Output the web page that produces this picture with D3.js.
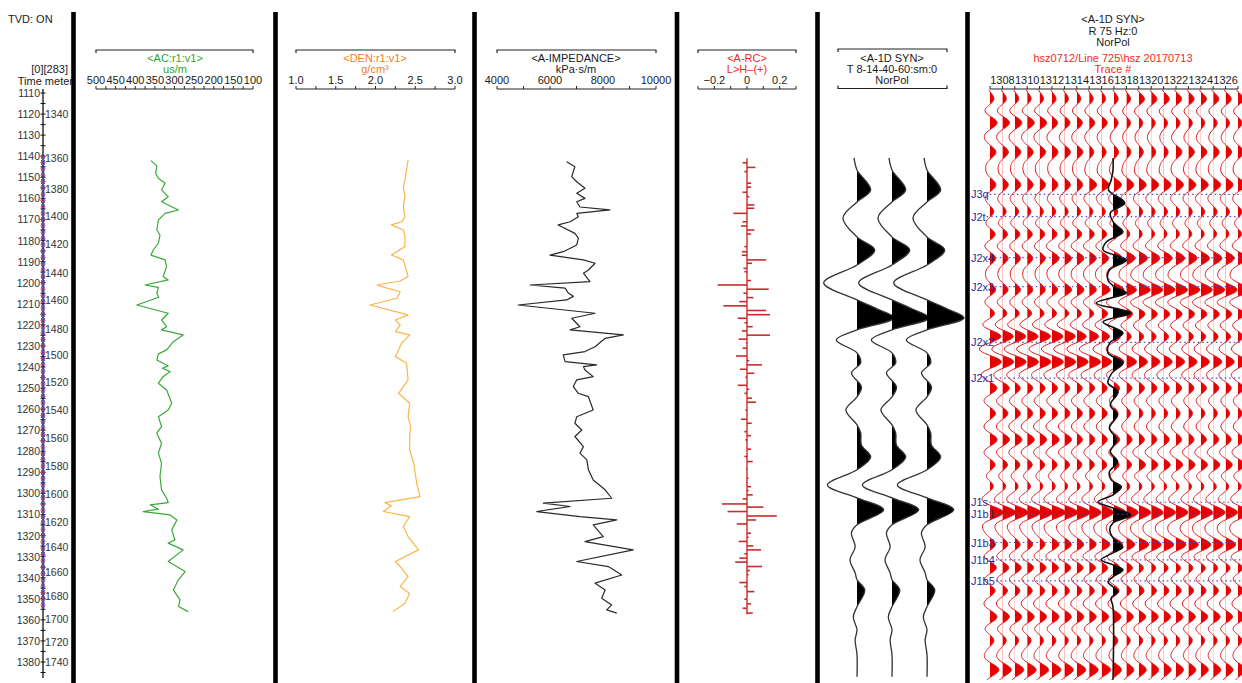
<!DOCTYPE html>
<html>
<head>
<meta charset="utf-8">
<script src="https://cdn.jsdelivr.net/npm/d3@7"></script>
<style>
  body { margin: 0; background: #fff; }
  svg { display: block; }
  text { font-family: "Liberation Sans", Arial, sans-serif; font-size: 11px; fill: #1a1a1a; }
</style>
</head>
<body>
<svg id="chart" width="1242" height="683"></svg>
<script>
// ---------- time / depth axis ----------
const timeTicks = [1110,1120,1130,1140,1150,1160,1170,1180,1190,1200,1210,1220,1230,1240,1250,1260,1270,1280,1290,1300,1310,1320,1330,1340,1350,1360,1370,1380];
const depthLabels = [1340,1360,1380,1400,1420,1440,1460,1480,1500,1520,1540,1560,1580,1600,1620,1640,1660,1680,1700,1720,1740];
const depthTimes  = [1120,1141,1155.6,1168.4,1181.7,1195.3,1208.2,1222,1234.3,1247.1,1260.4,1273.7,1287,1300.3,1313.6,1325.5,1337.3,1348.7,1359.6,1370.5,1380];

// ---------- logs: [time ms, value] ----------
const acLog = [[1142.1,360],[1144.6,345],[1148.1,348],[1150.5,341],[1152.8,324],[1156.0,333],[1159.2,316],[1161.6,333],[1165.5,290],[1167.1,324],[1170.2,341],[1175.0,345],[1177.4,337],[1181.3,341],[1184.5,354],[1186.9,360],[1189.2,324],[1192.4,320],[1197.1,329],[1198.7,316],[1201.1,375],[1202.2,341],[1205.0,345],[1206.9,340],[1210.6,396],[1214.5,316],[1217.7,333],[1220.9,320],[1222.4,333],[1224.8,278],[1228.0,303],[1231.9,320],[1233.8,341],[1236.7,345],[1239.5,316],[1240.6,331],[1242.2,311],[1244.6,329],[1247.7,341],[1250.9,320],[1257.2,307],[1260.4,316],[1263.6,341],[1268.3,333],[1271.4,345],[1276.2,333],[1280.9,341],[1285.7,333],[1292.0,337],[1298.3,333],[1302.3,320],[1304.4,316],[1305.4,362],[1307.5,341],[1308.6,380],[1310.2,311],[1312.6,294],[1317.3,307],[1322.1,299],[1323.6,316],[1326.8,278],[1332.3,316],[1337.1,273],[1341.0,290],[1345.8,303],[1350.5,286],[1353.7,290],[1356.1,265]];

const denLog = [[1141.8,2.41],[1146.5,2.39],[1151.3,2.37],[1154.4,2.35],[1159.2,2.37],[1163.9,2.35],[1168.7,2.37],[1171.1,2.33],[1172.6,2.20],[1175.0,2.35],[1178.2,2.37],[1182.9,2.37],[1186.9,2.20],[1189.2,2.35],[1193.0,2.38],[1197.1,2.41],[1199.2,2.31],[1201.1,2.02],[1201.9,2.08],[1204.3,2.31],[1207.4,2.27],[1210.6,1.93],[1215.3,2.41],[1217.7,2.25],[1220.1,2.31],[1223.2,2.25],[1224.8,2.43],[1228.7,2.33],[1235.1,2.25],[1238.2,2.39],[1246.1,2.41],[1252.5,2.29],[1257.2,2.43],[1263.6,2.41],[1268.0,2.44],[1273.0,2.43],[1279.4,2.43],[1285.7,2.48],[1290.4,2.50],[1295.5,2.52],[1301.5,2.56],[1304.4,2.12],[1305.9,2.20],[1308.6,2.10],[1311.0,2.43],[1315.7,2.35],[1320.5,2.41],[1326.8,2.54],[1332.3,2.25],[1334.7,2.31],[1339.5,2.41],[1344.2,2.31],[1347.5,2.43],[1352.1,2.37],[1356.1,2.22]];

const impLog = [[1142.6,6630],[1145.0,6940],[1149.7,6820],[1152.1,7010],[1155.2,7320],[1157.6,7010],[1160.0,7320],[1161.6,7010],[1164.1,7130],[1165.5,8260],[1167.1,7010],[1168.7,7070],[1171.1,6760],[1172.6,6310],[1176.6,6940],[1178.9,7070],[1182.1,7010],[1185.3,6500],[1186.9,6000],[1189.2,7260],[1190.8,7700],[1194.0,7450],[1195.5,7260],[1199.5,7510],[1201.1,5250],[1202.6,6570],[1204.9,6690],[1206.5,6880],[1208.2,6630],[1210.6,4800],[1214.5,7700],[1216.9,6820],[1220.9,7130],[1222.4,6760],[1224.8,8770],[1226.4,8080],[1230.4,7700],[1232.7,7320],[1234.3,6500],[1237.5,6570],[1239.0,7760],[1239.8,7260],[1241.4,7320],[1244.6,7630],[1246.1,7010],[1249.3,6880],[1252.5,7070],[1254.1,7450],[1260.4,7630],[1263.6,7010],[1266.7,6940],[1269.9,7200],[1273.0,6940],[1277.8,7260],[1280.9,7130],[1284.1,7390],[1288.8,7450],[1293.6,7630],[1298.3,8080],[1302.3,8330],[1304.6,5750],[1306.2,6760],[1308.6,5500],[1311.0,7130],[1312.6,8520],[1314.9,7630],[1320.5,8010],[1322.9,7320],[1326.8,9140],[1332.3,7010],[1334.7,8200],[1338.7,8710],[1342.6,7700],[1345.8,8080],[1349.7,7950],[1352.9,8330],[1355.3,8140],[1356.8,8520]];

// reflection coefficients: [time ms, rc]
const rcSpikes = [[1143.1,-0.027],[1145.3,0.051],[1147.3,-0.016],[1152.8,0.025],[1154.7,0.025],[1157.1,-0.027],[1159.2,0.014],[1163.1,0.045],[1164.7,0.045],[1167.1,-0.084],[1171.1,-0.027],[1173.1,-0.037],[1175.0,0.045],[1176.9,0.025],[1182.9,-0.016],[1185.3,-0.031],[1187.0,-0.031],[1189.2,0.117],[1190.8,0.031],[1193.2,-0.022],[1194.8,-0.016],[1199.0,0.025],[1201.1,-0.180],[1203.1,0.133],[1205.0,-0.022],[1207.1,0.039],[1209.0,-0.047],[1211.0,-0.145],[1213.2,0.117],[1215.2,0.141],[1216.9,-0.057],[1219.0,-0.016],[1220.9,0.035],[1222.9,-0.031],[1224.9,0.141],[1226.8,-0.051],[1228.7,-0.006],[1231.1,-0.027],[1234.8,-0.067],[1237.0,0.014],[1239.0,0.092],[1241.1,-0.043],[1243.0,0.045],[1244.9,-0.010],[1248.7,-0.057],[1250.6,0.014],[1252.5,-0.016],[1254.8,0.031],[1256.7,0.055],[1260.4,-0.010],[1264.8,-0.037],[1266.7,0.029],[1270.7,-0.016],[1272.6,0.025],[1274.6,-0.010],[1279.0,0.025],[1282.5,-0.016],[1284.9,0.035],[1288.5,-0.006],[1292.8,0.010],[1294.9,-0.006],[1296.8,0.025],[1298.7,0.010],[1300.7,0.035],[1302.6,-0.027],[1305.0,-0.153],[1306.5,0.100],[1308.6,-0.119],[1310.7,0.182],[1312.6,0.055],[1314.5,-0.063],[1318.9,0.025],[1320.8,0.010],[1322.8,-0.051],[1324.9,0.039],[1326.8,0.086],[1328.7,-0.016],[1330.7,-0.047],[1332.6,-0.072],[1334.7,0.092],[1336.6,0.018],[1338.6,0.010],[1342.3,-0.047],[1344.2,-0.016],[1346.6,0.045],[1350.2,-0.016],[1352.4,0.025],[1354.5,-0.027],[1356.8,0.035]];

// band-pass synthetic (panel 5): [time ms, normalised amplitude]
const synTrace = [[1140.8,-0.08],[1146.5,0],[1156.0,0.37],[1161.7,0],[1169.3,-0.38],[1178.3,0],[1184.5,0.48],[1191.6,0],[1200.1,-0.9],[1208.2,0],[1212.5,0.55],[1216.7,1.0],[1222.4,0],[1227.2,-0.56],[1233.3,0],[1238.1,0.1],[1242.8,-0.15],[1249.5,0.12],[1254.2,0],[1260.4,-0.3],[1267.5,0],[1271.3,0.1],[1277.0,0.12],[1282.7,0.37],[1288.8,0],[1296.0,-0.8],[1302.1,0],[1307.8,0.72],[1314.9,0],[1318.7,-0.15],[1325.4,-0.05],[1331.5,-0.19],[1337.7,-0.05],[1341.0,0],[1345.8,0.21],[1353.8,0],[1358.6,-0.1],[1364.7,0],[1369.5,-0.05],[1376.6,0],[1387.0,0]];
const synCopies = [0, 1, 2];

// 75 Hz synthetic inserted in the section: [time ms, normalised amplitude]
const insertTrace = [[1140.8,0],[1146.5,0],[1151.3,-0.1],[1156.0,-0.25],[1162.2,0.65],[1166.9,-0.15],[1171.7,0.05],[1175.9,0.55],[1180.7,-0.37],[1184.5,-0.55],[1189.2,0.74],[1194.0,-0.2],[1198.7,-0.28],[1202.0,0.1],[1204.9,0.74],[1209.6,-0.93],[1214.4,1.0],[1218.6,-0.55],[1223.9,0.55],[1228.6,-0.18],[1233.3,-0.28],[1238.1,0.55],[1242.8,-0.05],[1247.6,-0.28],[1251.8,0.28],[1258.0,-0.15],[1262.7,0.25],[1268.9,-0.2],[1274.6,0.2],[1280.3,-0.15],[1285.0,0.25],[1289.8,-0.2],[1293.6,-0.1],[1296.9,0.46],[1300.7,0],[1304.0,-0.83],[1306.9,0],[1310.2,1.0],[1314.0,0],[1317.3,-0.18],[1321.1,0],[1325.4,0.55],[1328.2,0],[1331.5,-0.65],[1333.9,0],[1336.3,0.55],[1339.6,0],[1342.0,-0.28],[1344.3,0],[1346.7,0.28],[1349.6,-0.1],[1353.8,0],[1388.4,0]];
const insertTraceNo = 1317;

// seismic section: peak times and per-trace peak strength (one digit per trace 1307..1327)
const traceNumbers = [1307,1308,1309,1310,1311,1312,1313,1314,1315,1316,1317,1318,1319,1320,1321,1322,1323,1324,1325,1326,1327];
const traceLabels = [1308,1310,1312,1314,1316,1318,1320,1322,1324,1326];
const seisPeakTimes = [1113,1124,1138,1153.6,1166.5,1177,1188.3,1203.5,1214.8,1225.5,1237.5,1250,1262,1274.5,1286.5,1296.5,1309,1324.4,1335.3,1346,1358.6,1369.5,1383.7];
const seisPeakAmps = [
  "333333333333444444444",
  "555554444433333333333",
  "444444443333333444444",
  "444444445555555555555",
  "333333333333333333333",
  "444444444443333333333",
  "444445555566666666666",
  "444444555677888888888",
  "444444444555555555555",
  "888888877654444444444",
  "888888888777666666666",
  "554444444444444444444",
  "444444444433333333333",
  "555555544444444444444",
  "444444444444555555555",
  "333333333333333333333",
  "999999998888888888888",
  "444445555666777777777",
  "555555555555444444444",
  "444444444444444444444",
  "555555555555555555555",
  "333333333333333333333",
  "666666666655555555555"
];

// horizons
const horizonNames = ["J3q","J2t","J2x4","J2x3","J2x2","J2x1","J1s","J1b1","J1b3","J1b4","J1b5"];
const horizonTimes = [1158.1,1168.7,1188.1,1201.9,1228.3,1245.3,1304.2,1309.9,1323.3,1331.5,1341.5];

// ---------- drawing ----------
const W = 1242, H = 683;
const svg = d3.select("#chart");
const defs = svg.append("defs");
const y = d3.scaleLinear().domain([1110, 1380]).range([93, 662]);

// track scales
const xAC  = d3.scaleLinear().domain([500, 100]).range([96, 253]);
const xDEN = d3.scaleLinear().domain([1, 3]).range([296, 455]);
const xIMP = d3.scaleLinear().domain([4000, 10000]).range([497, 656]);
const xRC  = d3.scaleLinear().domain([-0.3, 0.3]).range([698, 796]);
const xSyn = d3.scaleLinear().domain([0, 2]).range([857, 927]);
const xTrace = d3.scaleLinear().domain([1307, 1327]).range([990, 1238]);

const BRACKET_Y = 50, AXIS_Y = 89;

function bracket(x0, x1, yy, dir) {
  svg.append("path")
    .attr("d", `M${x0},${yy + dir * 3}V${yy}H${x1}V${yy + dir * 3}`)
    .attr("fill", "none").attr("stroke", "#222").attr("stroke-width", 1.2);
}
function headerText(x, yy, str, color, size) {
  return svg.append("text").attr("x", x).attr("y", yy).attr("text-anchor", "middle")
    .style("fill", color || "#1a1a1a").style("font-size", (size || 11) + "px").text(str);
}
function scaleAxis(scale, ticks, labels, fmt) {
  const [r0, r1] = scale.range();
  const a = Math.min(r0, r1), b = Math.max(r0, r1);
  svg.append("line").attr("x1", a).attr("x2", b).attr("y1", AXIS_Y).attr("y2", AXIS_Y)
    .attr("stroke", "#222").attr("stroke-width", 1.2);
  svg.selectAll(null).data(ticks).join("line")
    .attr("x1", d => scale(d)).attr("x2", d => scale(d))
    .attr("y1", AXIS_Y).attr("y2", AXIS_Y - 3).attr("stroke", "#222").attr("stroke-width", 1);
  svg.selectAll(null).data(labels).join("text")
    .attr("x", d => scale(d)).attr("y", 84).attr("text-anchor", "middle")
    .text(fmt);
}

// left header
svg.append("text").attr("x", 8).attr("y", 23).text("TVD: ON");
svg.append("text").attr("x", 68).attr("y", 73).attr("text-anchor", "end").text("[0][283]");
svg.append("text").attr("x", 73).attr("y", 85).attr("text-anchor", "end").text("Time meter");

// AC header
bracket(96, 253, BRACKET_Y, 1);
headerText(175, 62, "<AC:r1:v1>", "#2fa82f");
headerText(175, 73, "us/m", "#2fa82f");
scaleAxis(xAC, [500,475,450,425,400,375,350,325,300,275,250,225,200,175,150,125,100], [500,450,400,350,300,250,200,150,100], d => d);

// DEN header
bracket(296, 455, BRACKET_Y, 1);
headerText(375, 62, "<DEN:r1:v1>", "#f07d1e");
headerText(375, 73, "g/cm³", "#f07d1e");
scaleAxis(xDEN, [1,1.25,1.5,1.75,2,2.25,2.5,2.75,3], [1,1.5,2,2.5,3], d => d.toFixed(1));

// impedance header
bracket(497, 656, BRACKET_Y, 1);
headerText(576, 62, "<A-IMPEDANCE>");
headerText(576, 73, "kPa·s/m");
scaleAxis(xIMP, [4000,5000,6000,7000,8000,9000,10000], [4000,6000,8000,10000], d => d);

// RC header
bracket(698, 796, BRACKET_Y, 1);
headerText(747, 62, "<A-RC>", "#f02a1a");
headerText(747, 73, "L>H–(+)", "#f02a1a");
scaleAxis(xRC, [-0.3,-0.2,-0.1,0,0.1,0.2,0.3], [-0.2,0,0.2], d => d === 0 ? "0" : (d < 0 ? "−" : "") + Math.abs(d).toFixed(1));

// synthetic header
bracket(838, 947, 49, 1);
headerText(892, 62, "<A-1D SYN>");
headerText(892, 73, "T 8-14-40-60:sm:0");
headerText(892, 84, "NorPol");
bracket(838, 947, 88.5, -1);

// section header
headerText(1113, 23, "<A-1D SYN>");
headerText(1113, 35, "R 75 Hz:0");
headerText(1113, 46, "NorPol");
headerText(1113, 62, "hsz0712/Line 725\\hsz 20170713", "#f02a1a");
headerText(1113, 73, "Trace #", "#f02a1a");
svg.append("line").attr("x1", 990).attr("x2", 1238).attr("y1", AXIS_Y).attr("y2", AXIS_Y)
  .attr("stroke", "#222").attr("stroke-width", 1.2);
svg.selectAll(null).data(traceNumbers).join("line")
  .attr("x1", d => xTrace(d)).attr("x2", d => xTrace(d))
  .attr("y1", AXIS_Y).attr("y2", AXIS_Y - 3).attr("stroke", "#222");
svg.selectAll(null).data(traceLabels).join("text")
  .attr("x", d => xTrace(d)).attr("y", 84).attr("text-anchor", "middle").text(d => d);

// ---------- time / depth axis ----------
const AX = 43;
svg.append("line").attr("x1", AX).attr("x2", AX).attr("y1", 89).attr("y2", 678)
  .attr("stroke", "#111").attr("stroke-width", 1.3);
const minorTimes = d3.range(1115, 1390, 10);
svg.selectAll(null).data(minorTimes.concat(timeTicks)).join("line")
  .attr("x1", AX - 2.5).attr("x2", AX + 2.5).attr("y1", d => y(d)).attr("y2", d => y(d))
  .attr("stroke", "#111");
svg.selectAll(null).data(timeTicks).join("text")
  .attr("x", AX - 3).attr("y", d => y(d) + 4).attr("text-anchor", "end")
  .style("font-size", "10.5px").style("fill", "#333").text(d => d);
svg.selectAll(null).data(depthLabels).join("text")
  .attr("x", AX + 2).attr("y", (d, i) => y(depthTimes[i]) + 4)
  .style("font-size", "10.5px").style("fill", "#333").text(d => d);
// log sample markers along the axis
const sampleTimes = d3.range(1140, 1355.5, 1.5);
svg.selectAll(null).data(sampleTimes).join("path")
  .attr("d", d => `M${AX - 2},${y(d) - 1.5}L${AX + 2},${y(d) + 1.5}M${AX - 2},${y(d) + 1.5}L${AX + 2},${y(d) - 1.5}`)
  .attr("stroke", "#4a3fb8").attr("stroke-width", 0.9);
svg.selectAll(null).data(sampleTimes.filter((d, i) => i % 2 === 0)).join("line")
  .attr("x1", AX - 2.5).attr("x2", AX + 2.5).attr("y1", d => y(d)).attr("y2", d => y(d))
  .attr("stroke", "#c8283c").attr("stroke-width", 0.9);

// ---------- log curves ----------
function logCurve(data, xs, color, width) {
  svg.append("path").datum(data)
    .attr("d", d3.line().x(d => xs(d[1])).y(d => y(d[0])))
    .attr("fill", "none").attr("stroke", color).attr("stroke-width", width)
    .attr("stroke-linejoin", "round");
}
logCurve(acLog, xAC, "#3aa93a", 1.2);
logCurve(denLog, xDEN, "#fbb54a", 1.2);
logCurve(impLog, xIMP, "#2a2a2a", 1.2);

// RC spikes
svg.append("line").attr("x1", xRC(0)).attr("x2", xRC(0))
  .attr("y1", y(1141)).attr("y2", y(1357.5)).attr("stroke", "#cc2a2a").attr("stroke-width", 1.4);
svg.selectAll(null).data(rcSpikes).join("line")
  .attr("x1", xRC(0)).attr("x2", d => xRC(d[1]))
  .attr("y1", d => y(d[0])).attr("y2", d => y(d[0]))
  .attr("stroke", "#cc2a2a").attr("stroke-width", 1.6);

// ---------- wiggle helper ----------
let clipId = 0;
function wiggle(data, base, scale, lineColor, fillColor, curve, lw) {
  const id = "wclip" + (clipId++);
  defs.append("clipPath").attr("id", id).append("rect")
    .attr("x", base).attr("y", 0).attr("width", 80).attr("height", H);
  const area = d3.area().y(d => y(d[0])).x0(base).x1(d => base + d[1] * scale).curve(curve);
  const line = d3.line().y(d => y(d[0])).x(d => base + d[1] * scale).curve(curve);
  svg.append("path").datum(data).attr("d", area).attr("fill", fillColor)
    .attr("clip-path", `url(#${id})`);
  svg.append("path").datum(data).attr("d", line).attr("fill", "none")
    .attr("stroke", lineColor).attr("stroke-width", lw);
}

// panel 5: synthetic copies
synCopies.forEach(c => wiggle(synTrace, xSyn(c), 37, "#333", "#000", d3.curveCatmullRom.alpha(0.5), 1.3));

// seismic section: each trace is built from its peaks with a Ricker pulse
const PULSE_HZ = 62;
const ricker = dt => { const a = Math.PI * PULSE_HZ * 1e-3 * dt; const a2 = a * a; return (1 - 2 * a2) * Math.exp(-a2); };
const seisSampleTimes = d3.range(1108.5, 1388.6, 0.5);
const PX_PER_UNIT = 1.5;
traceNumbers.forEach((tn, i) => {
  const pts = seisSampleTimes.map(t => {
    let a = 0;
    seisPeakTimes.forEach((pt, k) => { a += (+seisPeakAmps[k][i]) * ricker(t - pt); });
    return [t, a];
  });
  wiggle(pts, xTrace(tn), PX_PER_UNIT, "#e01a1a", "#e80000", d3.curveLinear, 1);
});

// inserted synthetic trace
wiggle(insertTrace, xTrace(insertTraceNo) - 1, 18, "#111", "#000", d3.curveCatmullRom.alpha(0.5), 1.6);

// horizons
horizonNames.forEach((name, i) => {
  const yy = y(horizonTimes[i]);
  const t = svg.append("text").attr("x", 971).attr("y", yy + 4)
    .style("fill", "#2b2b9e").text(name);
  const w = t.node().getComputedTextLength();
  svg.append("line").attr("x1", 971 + w + 1).attr("x2", W).attr("y1", yy).attr("y2", yy)
    .attr("stroke", "#4b4bd0").attr("stroke-width", 1.2).attr("stroke-dasharray", "1.5,3");
});

// track separators
const separatorX = [73.5, 275.5, 474.5, 677, 817.5, 967.5];
svg.selectAll(null).data(separatorX).join("rect")
  .attr("x", d => d - 2.3).attr("y", 12).attr("width", 4.6).attr("height", H - 12).attr("fill", "#000");
</script>
</body>
</html>
